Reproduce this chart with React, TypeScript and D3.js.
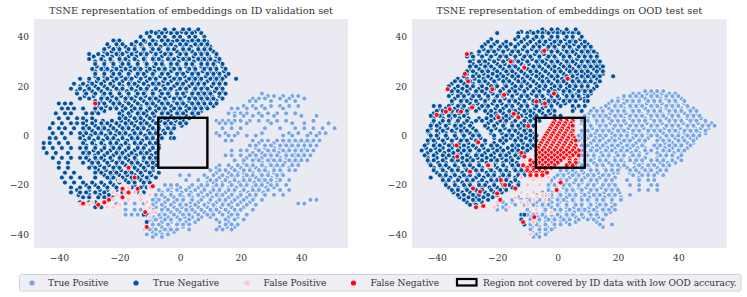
import React, { useEffect, useRef } from 'react';
import * as d3 from 'd3';

// every row is [y, x, x, x, ...]
const idTrueNegative: number[][] = [
  [43,-5,-2,1,3,6],
  [41.5,-11,-8,-6,-3,-1,2,4,7],
  [40,-13,-10,-7,-5,-2,0,3,5,8],
  [38.5,-22,-20,-12,-9,-6,-4,-1,1,4,6,8],
  [37,-24,-21,-19,-16,-13,-10,-8,-5,-3,0,2,5,7,9],
  [35,-25,-22,-20,-17,-15,-12,-9,-7,-4,-2,1,3,6,8,10],
  [33,-30,-27,-24,-21,-19,-16,-13,-11,-8,-5,-3,0,2,5,7,9,12],
  [31,-30,-26,-23,-20,-18,-15,-12,-9,-7,-4,-2,1,3,6,8,10,13],
  [29,-28,-25,-22,-19,-17,-14,-11,-8,-6,-3,-1,2,4,7,9,11,14],
  [27,-29,-26,-24,-21,-18,-15,-13,-10,-7,-5,-2,0,3,5,8,10,12,15],
  [25,-28,-25,-22,-20,-17,-14,-12,-9,-6,-4,-1,1,4,6,9,11,13,16],
  [23,-33,-30,-27,-24,-21,-18,-16,-13,-10,-8,-5,-2,0,3,5,7,10,12,14,18.5],
  [21,-35,-32,-29,-26,-23,-20,-17,-15,-12,-9,-7,-4,-1,1,4,6,8,11,13,15],
  [19,-36,-33,-30,-27,-24,-21,-19,-16,-13,-11,-8,-5,-3,0,2,5,7,9,12,14],
  [17,-34,-31,-28,-25,-23,-20,-17,-14,-12,-9,-6,-4,-1,1,4,6,8,10,13,15],
  [15,-33,-30,-26,-24,-21,-18,-16,-13,-10,-8,-5,-2,0,3,5,7,9,11,14],
  [13,-40,-38,-36,-27,-25,-22,-20,-17,-14,-11,-9,-6,-4,-1,1,4,6,8,10,12],
  [11,-39,-37,-35,-32,-28,-26,-23,-21,-18,-15,-13,-10,-7,-5,-2,0,3,5,7,9],
  [9,-41,-38,-36,-31,-29,-27,-20,-17,-14,-12,-9,-6,-4,-1,1,4,6],
  [7,-40,-37,-34,-32,-29,-20,-18,-15,-13,-10,-7,-5,-2,0,3],
  [5,-42,-39,-36,-34,-32,-29,-26,-24,-21,-18,-16,-13,-11,-8,-5,-3,0,2],
  [3,-43,-40,-38,-35,-32,-30,-27,-25,-22,-19,-17,-14,-12,-9,-7,-4,-2],
  [1,-42,-39,-36,-33,-31,-28,-26,-23,-20,-18,-15,-13,-10,-8,-5,-3],
  [-1,-43,-41,-38,-33,-30,-27,-24,-22,-19,-16,-14,-11,-9,-6,-3,-2],
  [-3,-45,-43,-40,-37,-32,-29,-26,-23,-21,-18,-15,-13,-10,-8],
  [-5,-45,-42,-39,-36,-33,-31,-28,-25,-22,-20,-17,-14,-12,-9,-7],
  [-7,-44,-41,-37,-32,-30,-27,-24,-21,-19,-16,-13,-11,-8],
  [-9,-42,-39,-36,-33,-31,-28,-26,-23,-20,-18,-15,-12,-10,-8],
  [-11,-40,-37,-32,-29,-27,-24,-21,-19,-16,-14,-11,-9],
  [-13,-40,-37,-30,-28,-25,-22,-20,-17,-15,-12,-9],
  [-15,-38,-35,-28,-26,-23,-21,-18,-16,-13,-10,-7],
  [-17,-39,-36,-33,-28,-24,-22,-19,-16,-14,-11,-8],
  [-19,-38,-35,-32,-29,-26,-23,-20,-17,-15,-12,-10],
  [-21,-36,-33,-30,-27,-24,-21,-16,-13,-11],
  [-23,-36,-33,-31,-28,-25,-22,-19,-14,-12],
  [-25,-32,-30,-27,-25,-22],
  [-27,-33,-30,-28],
  [-29,-28,-26],
  [-32,-11,-12],
  [-35,-11],
];
// the points that lie underneath in the crowded part of the cluster
const idTrueNegativeUnder: number[][] = [
  [42,-9.5,-7,-4.5,-2,0.5,2.5,5],
  [38,-21,-14.5,-11.5,-8,-5.5,-2.5,0,2.5,5,7.5,9],
  [36,-23.5,-20.5,-18,-15,-12.5,-9.5,-6.5,-4,-1.5,1,3.5,6,8.5,10],
  [34,-25,-22.5,-20,-17.5,-14.5,-12,-9.5,-6.5,-4,-1,1.5,4,6.5,8.5,11],
  [32,-28.5,-25.5,-22.5,-20,-17,-14.5,-11.5,-8.5,-6,-3.5,-0.5,2,4.5,7,9.5,12],
  [30,-28,-25,-22.5,-19.5,-17,-14,-11.5,-8.5,-6,-3,-0.5,2,4.5,7,9,11.5,13],
  [28,-27.5,-25,-22,-19.5,-16.5,-14,-11,-8.5,-5.5,-3,-0.5,2,4.5,7,9,11.5,14],
  [26,-28,-25,-22.5,-19.5,-16.5,-13.5,-11,-8.5,-5.5,-3,0,2.5,5,7.5,10,12,14.5],
  [24,-28,-25,-22.5,-19.5,-17,-14.5,-11.5,-9,-6.5,-3.5,-1,1.5,4,6,8.5,11,13,15],
  [22,-30,-27.5,-25,-22,-19,-16.5,-13.5,-11,-8,-5.5,-3,-0.5,2,4.5,6.5,9,11.5,13.5],
  [20,-33,-30.5,-28,-25,-22,-19,-16.5,-14,-10.5,-8,-5.5,-2,0.5,3,5.5,8,10.5,13],
  [18,-34,-31.5,-29,-26,-23,-20,-17.5,-14.5,-11.5,-9,-6.5,-3.5,-1,2,4.5,7,9.5,11.5,14],
  [16,-31.5,-28.5,-25.5,-22.5,-19.5,-17,-14.5,-11.5,-9,-6.5,-3.5,-1,1.5,4,6.5,8.5,10.5,13],
  [14,-28,-26,-23,-20.5,-18,-15,-12,-9.5,-7,-4.5,-2,0.5,3,5.5,7.5,10,12],
  [12,-27,-24.5,-21.5,-19,-16,-13,-10.5,-8,-5.5,-3,-0.5,2,4.5,6.5,8.5,11],
  [10,-28,-25,-19,-16,-13.5,-11,-8,-5.5,-3,-0.5,2,4.5,7],
  [8,-19,-16.5,-13.5,-11,-8.5,-6,-3,-0.5,2,4.5],
  [6,-31,-28,-25.5,-22.5,-19.5,-17,-14.5,-12,-9,-6.5,-4,-1.5,1],
  [4,-31,-28,-25.5,-23,-20,-17.5,-15,-12.5,-10,-7,-4.5,-2,0.5],
  [2,-31.5,-29,-26,-23.5,-21,-18.5,-15.5,-13,-10.5,-8,-5.5,-3],
  [0,-32,-29.5,-27,-24.5,-21.5,-19,-16.5,-14,-11.5,-9,-6.5],
  [-2,-31.5,-28.5,-25.5,-23,-20.5,-17.5,-15,-12.5,-10,-7.5],
  [-4,-31,-28,-25,-22.5,-19.5,-17,-14,-11.5,-9,-7],
  [-6,-31,-28.5,-26,-23,-20.5,-18,-15,-12.5,-10,-7.5],
  [-8,-30.5,-28,-25,-22,-19.5,-17,-14.5,-12,-9.5],
  [-10,-30,-27.5,-25,-22.5,-20,-17,-14.5,-12,-9.5,-8],
  [-12,-29,-26.5,-23.5,-21,-18,-15.5,-13,-10.5,-8],
  [-14,-27,-24.5,-22,-19.5,-17,-14,-11.5,-9],
  [-16,-25,-22.5,-20,-17.5,-15,-12.5,-9.5],
  [-18,-23,-20.5,-18,-15.5,-13,-10.5],
  [-20,-31,-28,-25,-22,-15,-12],
  [-22,-34,-30,-26.5,-24,-21],
  [-24,-33.5,-30,-26.5,-23.5],
];
const idTruePositive: number[][] = [
  [17,27],
  [16,29,31,34,37,39],
  [15,24,26,28,33,36,41],
  [14,23,25,30,35,38],
  [12,21,24,27,30,33,36,39],
  [11,17,19,22,25,28,34],
  [9,16,18,20,22,26,29,32,35,38],
  [8,18,21,24,27,31,40,45],
  [6,12,14,16,18,20,23,26,29,32,35,44],
  [5,13,15,17,22,30,37,41,49],
  [3,14,17,20,28,33,38,41,44,47,51],
  [1,12,15,19,27,36,39,43,46,48],
  [0,13,16,18,22,25,34,37,42,45],
  [-2,15,17,24,27,29,32,34,36,38,40,42,44,46],
  [-4,23,25,28,30,33,35,37,39,41,43,45],
  [-6,17,20,22,26,29,31,34,36,38,40,42,44],
  [-8,15,17,20,23,25,28,30,32,35,37,39,41,43],
  [-10,18,21,24,26,29,31,33,36,38,40,42],
  [-12,13,16,19,22,24,27,30,32,34,37,39],
  [-14,10,13,15,18,21,23,26,28,31,33,36,38],
  [-16,0,3,8,11,14,17,19,22,24,27,29,32,34],
  [-18,2,6,10,12,15,18,21,23,26,28,30,33,36],
  [-20,-5,-3,-1,4,7,9,12,14,17,20,22,25,27,30,32,35],
  [-22,-7,-4,-1,2,5,8,11,13,16,18,21,24,26,29,33,36],
  [-24,-8,-6,-3,0,3,6,9,12,14,17,20,23,25,28,31,34],
  [-26,-9,-7,-4,-1,1,4,7,10,13,15,18,21,24,27,43,45],
  [-27.5,-21,-18,-15,-12,39,41],
  [-28,-9,-6,-3,0,2,5,8,11,14,16,19,22,25],
  [-30,-18,-15,-13,-9,-6,-4,-1,2,4,7,10,12,15,18,20,24],
  [-32,-18,-16,-14,-10,-7,-5,-2,1,3,6,9,11,14,17,19,22],
  [-34,-10,-8,-5,-3,0,3,6,12,15,18,21],
  [-36,-9,-7,-4,-1,1,3,15,17,19],
  [-38,-10,-8,-5,-3,-1,3,12,14,17],
  [-40,-11,-8,-6,-4],
  [-41,-9,-6],
];
const idTruePositiveUnder: number[][] = [
  [-3,26,31,34.5,36.5,39,41,43],
  [-5,25,28,31,33,36,38.5,41],
  [-7,24,27,29.5,32.5,35,38,40.5],
  [-9,22,25,27,30,33,35,38,40],
  [-11,21,24,27,29.5,32,34.5,37,39],
  [-13,12,17,20,23,25,28,31,33,36],
  [-15,12,16,19,21,24,26.5,29,31,33.5],
  [-17,9,13,15.5,18,21,23,25,27,30,32],
  [-19,9,11,14,16.5,19.5,22,24.5,27,29,32],
  [-21,-3,0,3,6,8,11,13.5,16,18.5,21,24,26,28.5,31],
  [-23,-6,-3,0.5,3.5,7,10,12.5,15,17.5,20,22.5,25,27.5],
  [-25,-8,-5,-2,1,4,7.5,10.5,13,16,19,22,24.5],
  [-27,-8,-5,-2,0.5,3.5,6,9.5,12,14.5,17,20,23],
  [-29,-8,-5,-2,0.5,3.5,6,9,11.5,13.5,17,21],
  [-31,-9,-6,-3,0,2.5,5,8,10.5,13,16,18.5],
  [-33,-9,-6.5,-4,-1,1.5,4,7,10,16,19],
  [-35,-9,-6,-3,-0.5,2,5,13,16],
  [-37,-9,-6,-3.5,-1,1,13,15.5,18],
  [-39,-9,-6.5,-4,-2],
];
const idFalsePositive: number[][] = [
  [-18,-20],
  [-21,-17,-10],
  [-23,-18,-15,-22],
  [-24,-13,-10,-21],
  [-26,-22,-17,-13],
  [-27,-29,-25,-11],
  [-28,-33,-30,-20],
  [-29,-24,-22,-10],
  [-31,-9,-8],
  [-33,-10],
  [-38,-12],
];
const idFalseNegative: number[][] = [
  [13,-28],
  [-13,-17],
  [-17,-15],
  [-20.5,-9],
  [-21.5,-19,-14],
  [-23,-17],
  [-25,-19],
  [-26,-23.5],
  [-27,-25],
  [-27.5,-32],
  [-28,-27],
  [-31,-11.5],
  [-37,-11],
];

const oodTrueNegative: number[][] = [
  [43,-5,-2,0,3,6],
  [41.5,-20,-13,-10,-8,-5,-3,0,2,5,7],
  [40,-13,-10,-7,-5,-2,0,3,5,8],
  [38,-23,-20,-17,-12,-9,-6,-4,-1,1,4,6,9],
  [36,-25,-22,-19,-17,-14,-11,-8,-6,-3,-1,2,4,7,9,11],
  [34,-26,-23,-21,-18,-15,-13,-10,-7,-5,-2,0,3,5,8,10,12],
  [32,-30,-28,-25,-22,-19,-17,-14,-11,-9,-6,-3,-1,2,4,7,9,11,13],
  [30,-29,-26,-24,-21,-18,-15,-13,-10,-7,-5,-2,0,3,5,8,10,12,14],
  [28,-29,-27,-24,-22,-19,-16,-14,-11,-8,-6,-3,-1,2,4,7,9,11,13,15],
  [26,-30,-28,-25,-23,-20,-17,-15,-12,-9,-7,-4,-1,1,4,6,8,10,13,15],
  [24,-31,-28,-26,-23,-20,-18,-15,-13,-10,-7,-5,-2,0,3,5,8,10,12,14,18.4],
  [22,-34,-32,-29,-26,-24,-21,-18,-16,-13,-11,-8,-5,-3,0,2,5,7,9,11,14],
  [20,-36,-33,-30,-28,-25,-22,-20,-17,-14,-12,-9,-6,-4,-1,1,4,6,8,10,13],
  [18,-35,-33,-30,-27,-25,-22,-19,-16,-14,-11,-8,-6,-3,-1,2,4,7,9,11],
  [16,-36,-33,-31,-28,-26,-23,-20,-18,-15,-12,-10,-7,-5,-2,0,3,5,7,10],
  [14,-35,-32,-30,-27,-24,-21,-19,-16,-14,-11,-8,-6,-3,-1,2,4,6,9,10],
  [12,-41,-39,-36,-33,-31,-28,-25,-23,-20,-17,-15,-12,-10,-7,-4,-2,1,5,7,9],
  [10,-40,-38,-35,-33,-30,-27,-24,-22,-19,-16,-14,-11,-9,-6,-3,-1,5,8],
  [8,-42,-39,-36,-34,-31,-22,-20,-17,-15,-12,-9,-7,-4,-1,1],
  [6,-41,-38,-36,-33,-30,-27,-25,-22,-19,-17,-14,-11,-9,-6],
  [4,-42,-40,-37,-34,-32,-29,-24,-21,-18,-15,-13,-11,-8],
  [2,-43,-40,-38,-35,-32,-30,-27,-22,-19,-16,-14,-11,-9],
  [0,-42,-40,-37,-34,-31,-28,-26,-21,-17,-15,-12,-9,-7],
  [-2,-43,-41,-38,-35,-32,-30,-27,-24,-19,-17,-14,-12,-9,-7],
  [-4,-44,-41,-39,-36,-34,-31,-28,-25,-22,-20,-15,-13,-10,-8],
  [-6,-45,-42,-39,-36,-33,-31,-29,-26,-23,-20,-18,-15,-13,-10],
  [-8,-44,-41,-38,-36,-33,-30,-27,-25,-22,-19,-17,-14,-12],
  [-10,-43,-41,-38,-35,-33,-30,-28,-25,-22,-20,-17,-15],
  [-12,-42,-39,-37,-34,-31,-29,-26,-23,-21,-18,-15,-13],
  [-14,-41,-38,-35,-33,-30,-27,-25,-22,-19,-17,-14,-12],
  [-16,-39,-37,-34,-31,-29,-26,-23,-21,-18,-16,-13,-11],
  [-17,-42],
  [-18,-38,-36,-33,-30,-28,-25,-22,-20,-17,-14],
  [-20,-37,-34,-31,-29,-26,-24,-21,-18,-16,-13],
  [-22,-35,-33,-30,-27,-25,-22,-19,-17],
  [-24,-33,-31,-28,-26,-23,-20],
  [-26,-31,-28,-26,-23],
  [-28,-29,-27],
  [-32,-12,-11],
  [-34,-12],
  [-36,-11],
];
const oodTrueNegativeUnder: number[][] = [
  [42,-12,-9,-6.5,-4,-1.5,1,3.5,6],
  [39,-22,-14,-11,-8,-5.5,-2.5,0,2.5,5,7.5],
  [37,-24,-21,-18,-15.5,-13,-10,-7,-4.5,-2,0.5,3,5.5,8,10],
  [35,-24.5,-22,-19.5,-16.5,-14,-11.5,-8.5,-6,-3.5,-0.5,2,4.5,6.5,9,11],
  [33,-28.5,-26,-23.5,-20.5,-18,-15.5,-12.5,-10,-7.5,-4.5,-2,1,3.5,6,8.5,10.5,13],
  [31,-28,-25,-22.5,-19.5,-16.5,-14,-11.5,-8.5,-6,-3.5,-0.5,2,4.5,6.5,9,11,13],
  [29,-28,-25.5,-23,-20,-17.5,-15,-12,-9.5,-6.5,-4,-1.5,1,3.5,6,8,10.5,12.5,14],
  [27,-29,-26,-23.5,-21,-18,-15.5,-13,-10,-7.5,-5,-2,0.5,3,5,7.5,9.5,12,14],
  [25,-30,-27,-24.5,-21.5,-19,-16.5,-14,-11,-8.5,-6,-3,-0.5,2,4.5,6.5,9,11,13,15],
  [23,-33,-30,-27.5,-24.5,-22,-19.5,-17,-14,-11.5,-9,-6,-3.5,-1,1.5,4,6.5,9,11,13],
  [21,-35,-31,-28,-25.5,-23,-20.5,-17.5,-15,-12,-10,-7,-4.5,-2,0.5,3,5.5,8,10,12.5],
  [19,-34,-31.5,-29,-26,-23.5,-21,-18,-15,-12.5,-10,-7,-4.5,-2,0.5,3,5.5,8,10,12],
  [17,-35,-32,-29.5,-27,-24,-21.5,-19,-16.5,-13.5,-11,-8.5,-6,-3,-0.5,2,4.5,6.5,9,11],
  [15,-34,-31,-28.5,-25.5,-23,-20.5,-17.5,-15,-12.5,-9.5,-7,-4.5,-2,0.5,3,5,7.5,9],
  [13,-35,-32,-29,-26.5,-24,-21.5,-18.5,-16,-13,-10.5,-8,-5,-2.5,0,2.5],
  [11,-39,-37,-34,-31.5,-29,-26,-23.5,-20.5,-18,-15,-12.5,-10,-7.5,-5,-2,5.5],
  [9,-41,-38,-35,-32.5,-30,-23,-20.5,-18,-15.5,-13,-10.5,-8,-5,-2.5],
  [7,-41,-38,-35.5,-32.5,-29.5,-26,-23.5,-21,-18,-16,-13,-10.5,-8],
  [5,-41.5,-39,-36,-33.5,-31,-28.5,-23,-20,-17.5,-15,-12,-9.5],
  [3,-42,-39,-36.5,-33.5,-31,-28,-23,-20.5,-17.5,-15,-12.5,-10],
  [1,-42.5,-39.5,-37,-34,-31.5,-29,-26.5,-22,-18.5,-16,-13,-10.5,-8.5],
  [-1,-42,-39.5,-36.5,-33.5,-31,-28.5,-25.5,-21,-18,-15.5,-13,-10.5,-8],
  [-3,-43,-40.5,-37.5,-35,-32.5,-29.5,-26.5,-24,-21,-18,-14,-11.5,-9],
  [-5,-43.5,-40.5,-38,-35,-32.5,-29.5,-27,-24.5,-21.5,-19,-16.5,-14,-11.5,-9],
  [-7,-43,-40,-37.5,-34.5,-32,-29.5,-26.5,-24,-21,-18.5,-16,-13.5,-11],
  [-9,-43,-40,-37,-34.5,-31.5,-29,-26.5,-23.5,-21,-18.5,-15.5,-13],
  [-11,-42.5,-39.5,-37,-34,-31.5,-29,-26,-23.5,-20.5,-18,-15.5,-13.5],
  [-13,-41,-38.5,-36,-33,-30.5,-28,-25,-22.5,-20,-17,-14.5,-12],
  [-15,-40,-37,-34.5,-31.5,-29,-26.5,-23.5,-21,-18.5,-16,-13,-11],
  [-17,-38,-35.5,-32.5,-30,-27,-24.5,-22,-19,-16.5,-14,-12],
  [-19,-37,-34,-31.5,-29,-26,-23.5,-21,-18.5,-15.5,-13],
  [-21,-36,-33,-30.5,-28,-25,-22.5,-20,-17.5,-15],
  [-23,-34.5,-31.5,-29,-26.5,-24,-21,-18.5],
  [-25,-32.5,-29.5,-27,-24.5,-21.5],
  [-27,-30,-27.5,-25],
];
const oodTruePositive: number[][] = [
  [18,29,31,33,35],
  [16,22,24,26,28,31,33,36,38,40],
  [14,18,20,23,25,27,30,32,34,37,39,42],
  [12,16,19,21,24,26,28,31,33,36,38,40,43],
  [10,11,13,15,18,20,22,25,27,30,32,34,37,39,41,44,46],
  [8,9,12,14,16,19,21,24,26,28,31,33,35,38,40,43,45,47],
  [6,8,10,13,15,18,20,22,25,27,29,32,34,37,39,41,44,46,49],
  [4,9,11,14,16,19,21,24,26,28,31,33,36,38,40,43,45,48,50,52],
  [2,8,10,13,15,17,20,22,25,27,30,32,34,37,39,42,44,46,49],
  [0,7,9,11,14,16,19,21,23,26,28,31,33,36,38,40,43,45,47],
  [-2,7,9,12,14,17,19,22,24,27,29,33,35,37,40,42,45],
  [-4,8,10,13,15,18,20,23,25,28,32,34,37,39,41,44],
  [-6,8,11,13,16,18,21,23,26,29,31,35,37,40,42],
  [-8,8,10,12,15,17,20,22,25,27,34,36,38,41],
  [-10,6,9,11,14,16,19,21,24,26,28,31,33,35,38,41],
  [-12,6,8,10,13,15,18,20,22,27,30,32,35,37],
  [-14,1,3,5,8,11,13,16,18,20,24,26,29,31,34,36],
  [-16,0,2,5,7,10,12,15,17,25,28,30,32,35],
  [-18,-2,1,3,6,8,11,13,16,18,23,27,30,32],
  [-20,-3,-1,2,4,7,10,12,15,17,19,24,27,31,33],
  [-22,-3,0,3,5,8,11,13,16,18,20,27,30,33],
  [-24,-10,-7,-4,-2,1,4,6,9,12,14,17,19,24],
  [-26,-15,-12,-9,-6,-3,0,2,5,8,10,13,15,18,21],
  [-28,-20,-17,-14,-11,-8,-5,-3,0,3,6,8,11,14,16,19],
  [-30,-20,-17,-10,-7,-4,-1,1,4,7,9,12,15,17,19],
  [-32,-10,-8,-5,-2,0,3,5,8,11,13,16],
  [-34,-9,-6,-3,-1,2,4,7,10,12,15],
  [-36,-9,-7,-4,-1,1,4,14,18],
  [-38,-9,-6,-4,-2],
  [-40,-9,-7,-4],
  [-41,-8,-6],
];
const oodTruePositiveUnder: number[][] = [
  [17,25,27,29.5,32,34.5,37,39],
  [15,20,22,24.5,27,29,31.5,34,36,38.5,41],
  [13,17,19.5,22,24.5,27,29.5,32,34.5,37,39.5,42],
  [11,12,14.5,17,19.5,22,24.5,26.5,29,31.5,34,36,38.5,41,43.5,45],
  [9,10.5,13,15,17.5,20,22.5,25,27.5,30,32.5,34.5,37,39.5,42,44,46],
  [7,10,12.5,15,17,19.5,22,24,26.5,29,31,33.5,36,38,40.5,43,45,47.5],
  [5,8,10.5,13,15,17.5,20,22.5,25,27,29.5,32,34.5,37,39,41.5,44,46.5,49,51],
  [3,9,11.5,14,16,18.5,21,23.5,26,28.5,31,33,35.5,38,40.5,43,45.5,47.5,50],
  [1,8,10.5,12.5,15,18,20.5,23,25,27.5,30,32.5,35,37.5,40,42,44.5,47,49],
  [-1,8,10,12.5,15,18,20.5,23,25,27.5,30,34,36.5,39,41.5,44,46],
  [-3,8.5,11,13.5,16,18.5,21,23.5,26,28.5,33,35.5,38,40.5,43,45],
  [-5,9,11.5,14,16.5,19,21.5,24,26.5,29,33,35.5,38,40.5,43],
  [-7,9.5,12,14.5,17,19.5,22,24.5,27,29.5,33,36,38.5,41],
  [-9,7,9.5,12,14,16.5,19,21.5,24,26.5,29,33,35.5,38,40],
  [-11,7,9.5,12,14.5,17,19.5,22,25.5,28,31,34,36.5,39],
  [-13,6,8,10.5,13,15.5,18,20.5,23,25.5,28,30.5,33,36],
  [-15,1,3.5,6,8.5,11,13.5,16,18.5,20,24,27,30,33],
  [-17,-1,1.5,4,6.5,9,11.5,14,16.5,19,27,32],
  [-19,-2,0.5,3,5.5,8,10.5,13,15.5,18],
  [-21,-3,-0.5,2,4.5,7,9.5,12,14.5,17,19.5],
  [-23,-5,-2,0.5,3,5.5,8,10.5,13,15.5,18,20.5],
  [-25,-13,-10,-7,-4.5,-2,0.5,3,5.5,8,10.5,13,15.5,18,21],
  [-27,-18,-15,-12,-9.5,-7,-4.5,-2,0.5,3,5.5,8,10.5,13,15.5,18],
  [-29,-18,-10,-7,-4.5,-2,0.5,3,5.5,8,10.5,13,15.5,18],
  [-31,-9.5,-7,-4.5,-2,0.5,3,5.5,8,10.5,13,15.5,17.5],
  [-33,-9,-6.5,-4,-1.5,1,3.5,6,8.5,11,13.5],
  [-35,-9,-6.5,-4,-1.5,1,3,6,13],
  [-37,-8.5,-6,-3.5,-1,15],
  [-39,-8.5,-6,-3.5],
];
const oodFalsePositive: number[][] = [
  [-12,-22],
  [-17,-12,-3],
  [-18,-8],
  [-20,-6,-10],
  [-23,-8,-12],
  [-24,-10,-5,-3],
  [-25,-14,-7],
  [-26,-8,-4],
  [-27,-20,-12],
  [-28,-24,-10],
  [-29,-21,-16],
  [-30,-7],
  [-31,-2],
  [-35,-8],
  [-40,-9],
];
const oodFalseNegative: number[][] = [
  [34.3,-4.4],
  [33,-30],
  [30,-15.5],
  [27.5,-11],
  [25,-30.7],
  [23,3.3],
  [22,-29.6],
  [18.8,-36.4,-21.6],
  [17,-1.2],
  [16.5,-17.7],
  [13.8,-7],
  [13,-4.2],
  [11.4,-28.3],
  [10.7,-35.7],
  [9.7,-37,-32],
  [8.8,-14.5],
  [8.4,-40],
  [7.4,-13,-19.6],
  [6,-1,1,3,5],
  [5,-1.5,0.5,2.5,4.5],
  [4,-2,0,2,4,5],
  [3.9,-9.7],
  [3,-2.5,-0.5,1.5,3.5],
  [2,-3,-1,1,3,5],
  [1,-3.5,-1.5,0.5,2.5,4.5],
  [0,-4,-2,0,2,4,5],
  [-1,-4.5,-2.5,-0.5,1.5,3.5,5.5],
  [-2,-5,-3,-1,1,3,5,6],
  [-2.7,-26.3],
  [-3,-5.5,-3.5,-1.5,0.5,2.5,4.5],
  [-4,-6,-4,-2,0,2,4,6,-33.4],
  [-5,-6.5,-4.5,-2.5,-0.5,1.5,3.5,5.5],
  [-6,-7,-5,-3,-1,1,3,5,7],
  [-7,-12,-6,-4,-2,0,2,4,6],
  [-8,-7,-5,-3,-1,1,3,5,7],
  [-8.5,-33.2,-11],
  [-9,-6,-4,-2,0,2,4],
  [-10,-7,-5,-3,-1,1,4,6,-9],
  [-11,-8,-6,-4,-2,0,4,6],
  [-12,-9,-7,-5,-3,-1,3,5,-23,-11.4],
  [-13,-10,-8,-6,-4,-2],
  [-14,-10,-8,-6,-4],
  [-14.6,-29],
  [-15,-9,-7,-5,-3.5],
  [-16,-9,-7,-5],
  [-18,-18.8],
  [-19,1],
  [-20,-17.4],
  [-21.4,-28,-14],
  [-22,-0.3],
  [-22.7,-25.7],
  [-23.4,-20],
  [-26,-19],
  [-28.5,-24.6],
  [-29,-27],
  [-33,-7.7],
  [-35,-11.4],
];

const xTicks = [-40, -20, 0, 20, 40];
const yTicks = [-40, -20, 0, 20, 40];
const regionX = [-7.2, 9];
const regionY = [-13, 7.2];

const colors = { tp: '#7ba6e6', tn: '#04529f', fp: '#fcc9cc', fn: '#fb0a14' };
const legendDots = [
  { label: 'True Positive', color: colors.tp, dot: 32, text: 48 },
  { label: 'True Negative', color: colors.tn, dot: 136, text: 153 },
  { label: 'False Positive', color: colors.fp, dot: 247, text: 263.5 },
  { label: 'False Negative', color: colors.fn, dot: 353.5, text: 370.5 },
];

const FONT = '"DejaVu Serif", serif';
const INK = '#333';

const toPoints = (rows: number[][]) =>
  rows.flatMap(([y, ...xs]) => xs.map(x => [x, y]));

function drawPanel(svg: any, o: any) {
  const x = d3.scaleLinear().domain(o.xDomain).range([o.left, o.right]);
  const y = d3.scaleLinear().domain([-45.5, 47.2]).range([248, 19]);

  svg.append('rect')
    .attr('x', o.left).attr('y', 19)
    .attr('width', o.right - o.left).attr('height', 229)
    .attr('fill', '#eaeaf2');

  const series = [[o.tp, colors.tp], [o.tn, colors.tn], [o.fp, colors.fp], [o.fn, colors.fn]];
  series.forEach(([rows, color]: any) => {
    svg.append('g').selectAll('circle')
      .data(toPoints(rows))
      .join('circle')
      .attr('cx', (d: number[]) => x(d[0]))
      .attr('cy', (d: number[]) => y(d[1]))
      .attr('r', 2.5)
      .attr('fill', color)
      .attr('stroke', '#fff')
      .attr('stroke-opacity', 0.85)
      .attr('stroke-width', 0.9);
  });

  svg.append('rect')
    .attr('x', x(regionX[0])).attr('y', y(regionY[1]))
    .attr('width', x(regionX[1]) - x(regionX[0]))
    .attr('height', y(regionY[0]) - y(regionY[1]))
    .attr('fill', 'none').attr('stroke', '#000').attr('stroke-width', 2.4);

  const xAxis = svg.append('g').attr('transform', 'translate(0,248)')
    .call(d3.axisBottom(x).tickValues(xTicks).tickSize(0).tickPadding(7));
  const yAxis = svg.append('g').attr('transform', `translate(${o.left},0)`)
    .call(d3.axisLeft(y).tickValues(yTicks).tickSize(0).tickPadding(5));
  [xAxis, yAxis].forEach(a => {
    a.select('.domain').remove();
    a.selectAll('text').attr('fill', INK).attr('font-family', FONT).attr('font-size', 9.1);
  });

  svg.append('text')
    .attr('x', (o.left + o.right) / 2).attr('y', 13.5)
    .attr('text-anchor', 'middle')
    .attr('font-family', FONT).attr('font-size', 9.9).attr('fill', INK)
    .text(o.title);
}

export default function App() {
  const ref = useRef<SVGSVGElement>(null);

  useEffect(() => {
    const svg = d3.select(ref.current);
    svg.selectAll('*').remove();

    drawPanel(svg, {
      left: 34, right: 348, xDomain: [-48.2, 55.4],
      title: 'TSNE representation of embeddings on ID validation set',
      tp: [...idTruePositiveUnder, ...idTruePositive],
      tn: [...idTrueNegativeUnder, ...idTrueNegative],
      fp: idFalsePositive, fn: idFalseNegative,
    });
    drawPanel(svg, {
      left: 412, right: 726.7, xDomain: [-48.2, 56],
      title: 'TSNE representation of embeddings on OOD test set',
      tp: [...oodTruePositiveUnder, ...oodTruePositive],
      tn: [...oodTrueNegativeUnder, ...oodTrueNegative],
      fp: oodFalsePositive, fn: oodFalseNegative,
    });

    // legend
    const legend = svg.append('g');
    legend.append('rect')
      .attr('x', 19.5).attr('y', 274.5).attr('width', 721.5).attr('height', 16.5).attr('rx', 2)
      .attr('fill', '#eeeef4').attr('stroke', '#d0d0d6').attr('stroke-width', 1);
    legendDots.forEach(d => {
      legend.append('circle').attr('cx', d.dot).attr('cy', 283).attr('r', 2.6).attr('fill', d.color);
      legend.append('text').attr('x', d.text).attr('y', 286)
        .attr('font-family', FONT).attr('font-size', 9.1).attr('fill', INK).text(d.label);
    });
    legend.append('rect')
      .attr('x', 457).attr('y', 279).attr('width', 19.5).attr('height', 6.5)
      .attr('fill', 'none').attr('stroke', '#000').attr('stroke-width', 2.2);
    legend.append('text').attr('x', 483).attr('y', 286)
      .attr('font-family', FONT).attr('font-size', 9.1).attr('fill', INK)
      .text('Region not covered by ID data with low OOD accuracy.');
  }, []);

  return (
    <svg
      ref={ref}
      width={747}
      height={297}
      style={{ position: 'absolute', left: 0, top: 0, background: '#fff' }}
    />
  );
}
